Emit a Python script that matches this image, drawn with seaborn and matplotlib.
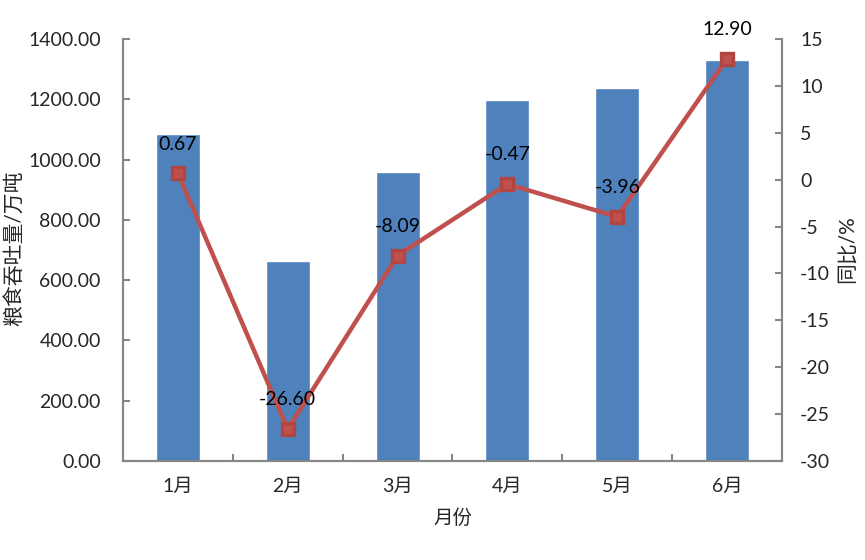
import matplotlib
matplotlib.use('Agg')
import seaborn as sns
import matplotlib.pyplot as plt
from matplotlib.ticker import FixedLocator, FormatStrFormatter
import pandas as pd

months = ['1月', '2月', '3月', '4月', '5月', '6月']
throughput = [1085, 664, 959, 1198, 1238, 1330]
yoy = [0.67, -26.60, -8.09, -0.47, -3.96, 12.90]

sns.set_style('white')
plt.rcParams['font.family'] = ['Lato', 'Noto Sans CJK SC', 'DejaVu Sans']
plt.rcParams['axes.unicode_minus'] = False

df = pd.DataFrame({'month': months, 'throughput': throughput, 'yoy': yoy})

bar_color = '#4F81BD'
line_color = '#C0504D'
axis_gray = '#868686'

fig = plt.figure(figsize=(8.65, 5.6), dpi=100)
ax = fig.add_axes([0.1422, 0.1768, 0.7618, 0.7536])

sns.barplot(data=df, x='month', y='throughput', color=bar_color, width=0.4,
            saturation=1, ax=ax)
ax.set_ylim(0, 1400)
ax.set_yticks(range(0, 1401, 200))
ax.yaxis.set_major_formatter(FormatStrFormatter('%.2f'))
ax.set_xlim(-0.5, 5.5)

ax2 = ax.twinx()
sns.pointplot(data=df, x='month', y='yoy', color=line_color, markers='s',
              linewidth=3.2, markersize=9, ax=ax2)
for line in ax2.lines:
    line.set_markeredgecolor('#B04541')
ax2.set_ylim(-30, 15)
ax2.set_yticks(range(-30, 16, 5))
ax2.set_xlim(-0.5, 5.5)

# data labels
for i, v in enumerate(yoy):
    ax2.annotate(f'{v:.2f}', (i, v), xytext=(0, 21), textcoords='offset points',
                 ha='center', va='center', fontsize=14, color='black')

# spines
for a in (ax, ax2):
    a.spines['top'].set_visible(False)
    for s in ('left', 'right', 'bottom'):
        a.spines[s].set_color(axis_gray)
        a.spines[s].set_linewidth(1.5)

ax.set_xlabel('月份', fontsize=14, labelpad=10)
ax.set_ylabel('粮食吞吐量/万吨', fontsize=15)
ax.yaxis.set_label_coords(-0.164, 0.505)
ax.yaxis.label.set_verticalalignment('center')
ax2.set_ylabel('同比/%', fontsize=15, rotation=90)
ax2.yaxis.set_label_coords(1.098, 0.502)
ax2.yaxis.label.set_verticalalignment('center')

ax.tick_params(axis='y', direction='in', length=5, color=axis_gray, width=1.5,
               labelsize=14, pad=16, left=True)
ax2.tick_params(axis='y', direction='in', length=5, color=axis_gray, width=1.5,
                labelsize=14, pad=13, right=True)
ax.tick_params(axis='x', which='major', length=0, labelsize=14, pad=12)
ax.xaxis.set_minor_locator(FixedLocator([0.5, 1.5, 2.5, 3.5, 4.5]))
ax.tick_params(axis='x', which='minor', direction='in', length=5,
               color=axis_gray, width=1.5, bottom=True)

fig.savefig('out.png', dpi=100)
